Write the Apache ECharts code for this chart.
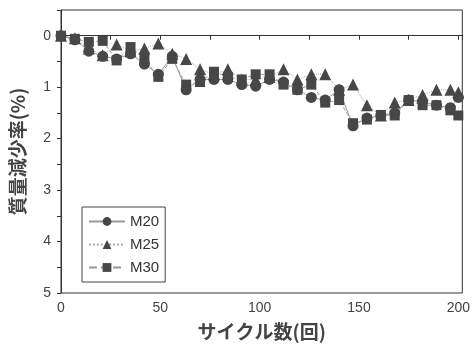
<!DOCTYPE html>
<html>
<head>
<meta charset="utf-8">
<script src="https://cdn.jsdelivr.net/npm/echarts@6/dist/echarts.min.js"></script>
<style>
  html, body { margin: 0; padding: 0; background: #fff; }
  #lineChart { width: 473px; height: 347px; }
</style>
</head>
<body>
<div id="lineChart"></div>
<script>
// サイクル数
var cycles = [0, 7, 14, 21, 28, 35, 42, 49, 56, 63, 70, 77, 84, 91, 98, 105, 112, 119, 126, 133, 140, 147, 154, 161, 168, 175, 182, 189, 196, 200];
// 質量減少率(%)
var m20 = [0, 0.08, 0.3, 0.4, 0.45, 0.35, 0.55, 0.75, 0.4, 1.05, 0.85, 0.85, 0.85, 0.95, 0.98, 0.85, 0.9, 1.05, 1.2, 1.25, 1.05, 1.75, 1.6, 1.55, 1.5, 1.25, 1.28, 1.35, 1.4, 1.2];
var m25 = [0, 0.05, 0.25, 0.38, 0.17, 0.3, 0.25, 0.15, 0.35, 0.45, 0.65, 0.75, 0.65, 0.85, 0.85, 0.8, 0.65, 0.85, 0.75, 0.75, 1.05, 0.95, 1.35, 1.55, 1.3, 1.25, 1.15, 1.05, 1.05, 1.1];
var m30 = [0, 0.06, 0.12, 0.1, 0.48, 0.22, 0.45, 0.8, 0.45, 0.95, 0.9, 0.7, 0.8, 0.85, 0.75, 0.75, 0.95, 1.05, 0.95, 1.3, 1.25, 1.7, 1.63, 1.54, 1.55, 1.25, 1.35, 1.35, 1.45, 1.55];
var xLabels = [0, 50, 100, 150, 200];
var yLabels = [0, 1, 2, 3, 4, 5];

function pairs(vals) {
    return cycles.map(function (c, i) { return [c, vals[i]]; });
}

var myChart = echarts.init(document.getElementById('lineChart'));
var markColor = '#474747';
var option = {
    animation: false,
    backgroundColor: '#fff',
    textStyle: { fontFamily: 'Liberation Sans, Arial, sans-serif' },
    grid: {
        left: 61,
        right: 10,
        top: 10,
        bottom: 54,
        show: true,
        borderColor: '#333',
        borderWidth: 1
    },
    legend: {
        orient: 'vertical',
        left: 82,
        top: 207,
        itemWidth: 36,
        itemHeight: 11,
        itemGap: 8,
        padding: [7, 6, 7, 6],
        borderColor: '#444',
        borderWidth: 1,
        textStyle: { fontSize: 15, color: '#333' },
        data: ['M20', 'M25', 'M30']
    },
    xAxis: {
        type: 'value',
        min: 0,
        max: 202,
        interval: 25,
        name: 'サイクル数(回)',
        nameLocation: 'middle',
        nameGap: 29,
        nameTextStyle: { fontSize: 19, fontWeight: 'bold', color: '#444', fontFamily: 'Noto Sans CJK JP' },
        axisLine: { lineStyle: { color: '#333' } },
        axisTick: { length: 4, lineStyle: { color: '#333' } },
        axisLabel: {
            fontSize: 14,
            color: '#444',
            margin: 8,
            formatter: function (v) { return xLabels.indexOf(v) >= 0 ? String(v) : ''; }
        },
        splitLine: { show: false }
    },
    yAxis: {
        type: 'value',
        inverse: true,
        min: -0.5,
        max: 5,
        interval: 0.5,
        name: '質量減少率(%)',
        nameLocation: 'middle',
        nameGap: 34,
        nameTextStyle: { fontSize: 19, fontWeight: 'bold', color: '#444', fontFamily: 'Noto Sans CJK JP' },
        axisLine: { lineStyle: { color: '#333' } },
        axisTick: { length: 4, lineStyle: { color: '#333' } },
        axisLabel: {
            fontSize: 14,
            color: '#444',
            margin: 10,
            formatter: function (v) { return yLabels.indexOf(v) >= 0 ? String(v) : ''; }
        },
        splitLine: { show: false }
    },
    series: [
        {
            name: 'M20',
            type: 'line',
            symbol: 'circle',
            symbolSize: 11,
            data: pairs(m20),
            itemStyle: { color: markColor },
            lineStyle: { color: '#999', width: 1, type: 'solid' }
        },
        {
            name: 'M25',
            type: 'line',
            symbol: 'triangle',
            symbolSize: 12,
            data: pairs(m25),
            itemStyle: { color: markColor },
            lineStyle: { color: '#aaa', width: 1, type: 'dotted' }
        },
        {
            name: 'M30',
            type: 'line',
            symbol: 'rect',
            symbolSize: 10,
            data: pairs(m30),
            itemStyle: { color: markColor },
            lineStyle: { color: '#999', width: 1, type: 'dashed' }
        }
    ]
};
myChart.setOption(option);
window.addEventListener('resize', function () {
    myChart.resize();
});
</script>
</body>
</html>
